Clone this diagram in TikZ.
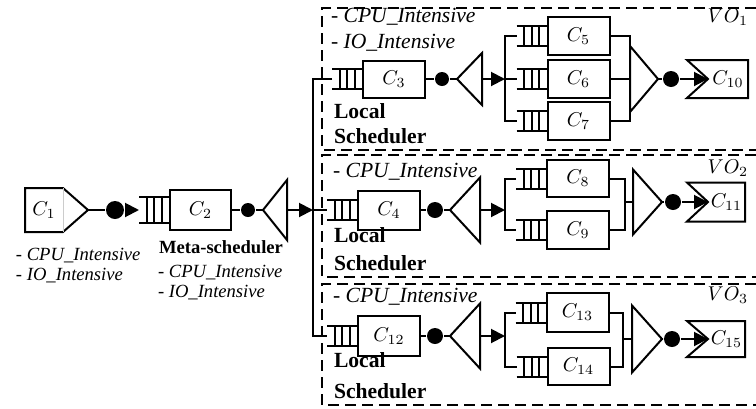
\documentclass[tikz,border=0pt]{standalone}
\usepackage[no-math]{fontspec}
\setmainfont{Liberation Serif}
\usetikzlibrary{positioning,arrows.meta}

\begin{document}
\begin{tikzpicture}[x=0.5pt, y=-0.5pt, line width=1pt,
  font=\fontsize{10}{12}\selectfont,
  server/.style={draw, rectangle, minimum width=31pt, minimum height=19pt, inner sep=0pt},
  queue/.style={rectangle, minimum width=15pt, minimum height=10pt, inner sep=0pt, outer sep=0pt,
    append after command={
      (\tikzlastnode.north west) edge (\tikzlastnode.north east)
      (\tikzlastnode.south west) edge (\tikzlastnode.south east)
      ([xshift=-3.75pt]\tikzlastnode.north) edge ([xshift=-3.75pt]\tikzlastnode.south)
      (\tikzlastnode.north) edge (\tikzlastnode.south)
      ([xshift=3.75pt]\tikzlastnode.north) edge ([xshift=3.75pt]\tikzlastnode.south)}},
  dot/.style={circle, fill, inner sep=0pt, minimum size=8pt},
  tri/.style={rectangle, inner sep=0pt, outer sep=0pt},
  flow/.style={-{Triangle[length=7pt,width=7pt]}},
  vobox/.style={dash pattern=on 5.5pt off 3pt},
  small/.style={inner sep=0pt, font=\fontsize{9.3}{11}\selectfont},
  big/.style={inner sep=0pt, font=\fontsize{10.8}{13}\selectfont}]
\useasboundingbox (0,0) rectangle (756,408);

% VO frames
\draw[vobox] (756,8) -- (322,8) -- (322,150) -- (756,150);
\draw[vobox] (756,155) -- (322,155) -- (322,277) -- (756,277);
\draw[vobox] (756,284) -- (322,284) -- (322,405) -- (756,405);
\node[inner sep=0pt, anchor=base east] (vo1) at (749,22) {$VO_1$};
\node[inner sep=0pt, anchor=base east] (vo2) at (749,173) {$VO_2$};
\node[inner sep=0pt, anchor=base east] (vo3) at (749,300) {$VO_3$};

% Source and meta-scheduler
\node[tri, minimum width=19pt, minimum height=22pt] (c1) at (44,210) {$C_1$};
\draw (c1.north west) -- (c1.north east) -- ([xshift=12.5pt]c1.east) coordinate (c1tip)
  -- (c1.south east) -- (c1.south west) -- cycle;
\draw[gray!40, line width=0.3pt] (c1.north east) -- (c1.south east);
\node[dot, minimum size=9pt] (d1) at (115,210) {};
\node[server, minimum width=30.5pt, minimum height=20pt] (c2) at (200.5,210) {$C_2$};
\node[queue, minimum height=13pt, left=0pt of c2] (q2) {};
\node[dot, minimum size=7pt] (d2) at (248,210) {};
\node[tri, minimum width=12pt, minimum height=30pt] (split2) at (275,210) {};
\draw (split2.west) -- (split2.north east) -- (split2.south east) -- cycle;
\coordinate (trunk) at (313,210);

\draw (c1tip) -- (d1);
\draw[flow] (d1) -- (q2.west);
\draw (c2) -- (d2) -- (split2.west);
\draw[flow] (split2.east) -- (trunk);

\node[small, anchor=base west] (c1cpu) at (15,260) {\textit{- CPU\_Intensive}};
\node[small, anchor=base west] (c1io) at (15,280) {\textit{- IO\_Intensive}};
\node[small, anchor=base west] (meta) at (158,253) {\textbf{Meta-scheduler}};
\node[small, anchor=base west] (c2cpu) at (157,277) {\textit{- CPU\_Intensive}};
\node[small, anchor=base west] (c2io) at (157,297) {\textit{- IO\_Intensive}};

% VO 1
\node[server, minimum height=18.5pt] (c3) at (394,79) {$C_3$};
\node[queue, left=0pt of c3] (q3) {};
\node[dot, minimum size=7pt] (d3) at (442,79) {};
\node[tri, minimum width=12.5pt, minimum height=26pt] (split3) at (469.5,79) {};
\draw (split3.west) -- (split3.north east) -- (split3.south east) -- cycle;
\coordinate (fork3) at (505,79);
\node[server] (c5) at (578.5,36) {$C_5$};
\node[server] (c6) at (578.5,79) {$C_6$};
\node[server] (c7) at (578.5,121) {$C_7$};
\node[queue, left=0pt of c5] (q5) {};
\node[queue, left=0pt of c6] (q6) {};
\node[queue, left=0pt of c7] (q7) {};
\node[tri, minimum width=14pt, minimum height=33pt] (join10) at (644,79) {};
\draw (join10.east) -- (join10.north west) -- (join10.south west) -- cycle;
\node[dot] (d10) at (671,79) {};
\node[tri, minimum width=20pt, minimum height=19pt] (c10) at (728,79) {$C_{10}$};
\draw ([xshift=-10.5pt]c10.north west) -- (c10.north east) -- (c10.south east)
  -- ([xshift=-10.5pt]c10.south west) -- (c10.west) -- cycle;

\draw (c3) -- (d3) -- (split3.west);
\draw[flow] (split3.east) -- (fork3);
\draw (q5.west) -| (fork3) |- (q7.west);
\draw (fork3) -- (q6.west);
\draw (c5.east) -| (join10.west) |- (c7.east);
\draw (c6.east) -- (join10.west);
\draw (join10.east) -- (d10);
\draw[flow] (d10) -- (c10.west);

\node[big, anchor=base west] (vo1cpu) at (330,22) {\textit{- CPU\_Intensive}};
\node[big, anchor=base west] (vo1io) at (330,48) {\textit{- IO\_Intensive}};
\node[big, anchor=base west] (loc1) at (333,118) {\textbf{Local}};
\node[big, anchor=base west] (sch1) at (333,143) {\textbf{Scheduler}};

% VO 2
\node[server, minimum height=19.5pt] (c4) at (389,210) {$C_4$};
\node[queue, left=0pt of c4] (q4) {};
\node[dot] (d4) at (435,210) {};
\node[tri, minimum width=15pt, minimum height=32.5pt] (split4) at (465,210) {};
\draw (split4.west) -- (split4.north east) -- (split4.south east) -- cycle;
\coordinate (fork4) at (505,210);
\node[server, minimum height=18.5pt] (c8) at (578,178.5) {$C_8$};
\node[server] (c9) at (578,230) {$C_9$};
\node[queue, left=0pt of c8] (q8) {};
\node[queue, left=0pt of c9] (q9) {};
\coordinate (bus11) at (625,202);
\node[tri, minimum width=14.5pt, minimum height=32.5pt] (join11) at (647.5,202) {};
\draw (join11.east) -- (join11.north west) -- (join11.south west) -- cycle;
\node[dot] (d11) at (673,202) {};
\node[tri, minimum width=18.5pt, minimum height=19.5pt] (c11) at (726.5,202) {$C_{11}$};
\draw ([xshift=-10.5pt]c11.north west) -- (c11.north east) -- (c11.south east)
  -- ([xshift=-10.5pt]c11.south west) -- (c11.west) -- cycle;

\draw (trunk) -- (q4.west);
\draw (c4) -- (d4) -- (split4.west);
\draw[flow] (split4.east) -- (fork4);
\draw (q8.west) -| (fork4) |- (q9.west);
\draw (c8.east) -| (bus11) |- (c9.east);
\draw (bus11) -- (join11.west);
\draw (join11.east) -- (d11);
\draw[flow] (d11) -- (c11.west);

\node[big, anchor=base west] (vo2cpu) at (332,177) {\textit{- CPU\_Intensive}};
\node[big, anchor=base west] (loc2) at (333,242) {\textbf{Local}};
\node[big, anchor=base west] (sch2) at (333,270) {\textbf{Scheduler}};

% VO 3
\node[server, minimum height=20pt] (c12) at (389,336) {$C_{12}$};
\node[queue, left=0pt of c12] (q12) {};
\node[dot] (d12) at (435,336) {};
\node[tri, minimum width=15pt, minimum height=32.5pt] (split12) at (465,336) {};
\draw (split12.west) -- (split12.north east) -- (split12.south east) -- cycle;
\coordinate (fork12) at (505,336);
\node[server, minimum height=19.5pt] (c13) at (577.5,312.5) {$C_{13}$};
\node[server, minimum height=18.5pt] (c14) at (578.5,366.5) {$C_{14}$};
\node[queue, left=0pt of c13] (q13) {};
\node[queue, left=0pt of c14] (q14) {};
\coordinate (bus15) at (623,339);
\node[tri, minimum width=15pt, minimum height=33.5pt] (join15) at (647,339) {};
\draw (join15.east) -- (join15.north west) -- (join15.south west) -- cycle;
\node[dot] (d15) at (672,339) {};
\node[tri, minimum width=18.5pt, minimum height=18pt] (c15) at (726.5,339) {$C_{15}$};
\draw ([xshift=-10.5pt]c15.north west) -- (c15.north east) -- (c15.south east)
  -- ([xshift=-10.5pt]c15.south west) -- (c15.west) -- cycle;

\draw (c12) -- (d12) -- (split12.west);
\draw[flow] (split12.east) -- (fork12);
\draw (q13.west) -| (fork12) |- (q14.west);
\draw (c13.east) -| (bus15) |- (c14.east);
\draw (bus15) -- (join15.west);
\draw (join15.east) -- (d15);
\draw[flow] (d15) -- (c15.west);

\node[big, anchor=base west] (vo3cpu) at (332,302) {\textit{- CPU\_Intensive}};
\node[big, anchor=base west] (loc3) at (333,367) {\textbf{Local}};
\node[big, anchor=base west] (sch3) at (333,398) {\textbf{Scheduler}};

% Trunk to the local schedulers
\draw (q3.west) -| (trunk) |- (q12.west);
\end{tikzpicture}
\end{document}
